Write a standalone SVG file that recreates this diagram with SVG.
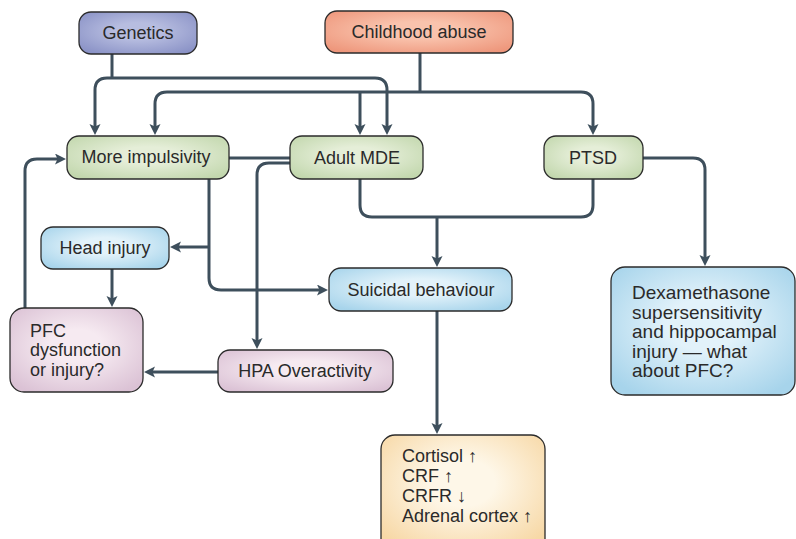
<svg xmlns="http://www.w3.org/2000/svg" width="796" height="539" viewBox="0 0 796 539">
<defs>
<radialGradient id="gGen" cx="50%" cy="45%" r="65%"><stop offset="0.3" stop-color="#b7bde0"/><stop offset="1" stop-color="#8a92c6"/></radialGradient>
<radialGradient id="gAbuse" cx="50%" cy="45%" r="65%"><stop offset="0.3" stop-color="#f9c3ad"/><stop offset="1" stop-color="#ee977c"/></radialGradient>
<radialGradient id="gGreen" cx="50%" cy="45%" r="65%"><stop offset="0.3" stop-color="#e5eed8"/><stop offset="1" stop-color="#c2d7ad"/></radialGradient>
<radialGradient id="gBlue" cx="50%" cy="45%" r="65%"><stop offset="0.3" stop-color="#e2f2fa"/><stop offset="1" stop-color="#a7d4eb"/></radialGradient>
<radialGradient id="gPink" cx="50%" cy="45%" r="65%"><stop offset="0.3" stop-color="#f6eaf1"/><stop offset="1" stop-color="#dbc2d5"/></radialGradient>
<radialGradient id="gCort" cx="50%" cy="40%" r="65%"><stop offset="0.3" stop-color="#fef7e8"/><stop offset="1" stop-color="#f7d8a6"/></radialGradient>
<marker id="arr" markerUnits="userSpaceOnUse" markerWidth="12" markerHeight="12" refX="7" refY="5.5" orient="auto-start-reverse">
<path d="M0,0 L11,5.5 L0,11 L2.5,5.5 z" fill="#3e4f5c"/>
</marker>
</defs>
<style>
.box{stroke:#2b2b2b;stroke-width:1.3}
.t{font-family:"Liberation Sans",Arial,sans-serif;font-size:18px;fill:#2a2a2a}
.d{font-size:19px}
.c{text-anchor:middle;dominant-baseline:central}
.ln{fill:none;stroke:#3e4f5c;stroke-width:3}
.a{marker-end:url(#arr)}
.s{marker-start:url(#arr)}
</style>
<g id="connectors">
<path class="ln" d="M112,54 V78"/>
<path class="ln a s" d="M387,131 V90 Q387,78 375,78 H107 Q95,78 95,90 V131"/>
<path class="ln" d="M420,53 V92"/>
<path class="ln a s" d="M593,131 V104 Q593,92 581,92 H167 Q155,92 155,104 V131"/>
<path class="ln a" d="M360,92 V131"/>
<path class="ln" d="M229,158 H290"/>
<path class="ln a" d="M290,163 H269 Q257,163 257,175 V345"/>
<path class="ln a" d="M643,158 H693 Q705,158 705,170 V262"/>
<path class="ln" d="M360,179 V205 Q360,217 372,217 H581 Q593,217 593,205 V179"/>
<path class="ln a" d="M437,217 V263"/>
<path class="ln a" d="M209,179 V278 Q209,290 221,290 H324"/>
<path class="ln a" d="M209,247 H174"/>
<path class="ln a" d="M112,269 V303"/>
<path class="ln a" d="M25,308 V171 Q25,159 37,159 H62"/>
<path class="ln a" d="M218,372 H148"/>
<path class="ln a" d="M437,311 V430"/>
</g>
<g id="genetics"><rect class="box" x="79" y="12" width="118" height="42" rx="12" fill="url(#gGen)"/><text class="t c" x="138" y="33">Genetics</text></g>
<g id="childhood-abuse"><rect class="box" x="325" y="11" width="188" height="42" rx="12" fill="url(#gAbuse)"/><text class="t c" x="419" y="32">Childhood abuse</text></g>
<g id="more-impulsivity"><rect class="box" x="67" y="136" width="162" height="43" rx="12" fill="url(#gGreen)"/><text class="t c" x="146" y="157">More impulsivity</text></g>
<g id="adult-mde"><rect class="box" x="290" y="136" width="133" height="43" rx="12" fill="url(#gGreen)"/><text class="t c" x="357" y="158">Adult MDE</text></g>
<g id="ptsd"><rect class="box" x="544" y="136" width="99" height="43" rx="12" fill="url(#gGreen)"/><text class="t c" x="593" y="158">PTSD</text></g>
<g id="head-injury"><rect class="box" x="41" y="227" width="128" height="42" rx="12" fill="url(#gBlue)"/><text class="t c" x="105" y="248">Head injury</text></g>
<g id="suicidal-behaviour"><rect class="box" x="329" y="268" width="183" height="43" rx="12" fill="url(#gBlue)"/><text class="t c" x="421" y="290">Suicidal behaviour</text></g>
<g id="dexamethasone"><rect class="box" x="611" y="267" width="184" height="128" rx="14" fill="url(#gBlue)"/>
<text class="t d" x="632" y="299">Dexamethasone</text>
<text class="t d" x="632" y="318.5">supersensitivity</text>
<text class="t d" x="632" y="338">and hippocampal</text>
<text class="t d" x="632" y="357.5">injury — what</text>
<text class="t d" x="632" y="377">about PFC?</text></g>
<g id="pfc"><rect class="box" x="10" y="308" width="133" height="84" rx="14" fill="url(#gPink)"/>
<text class="t" x="30" y="337">PFC</text>
<text class="t" x="30" y="356">dysfunction</text>
<text class="t" x="30" y="376">or injury?</text></g>
<g id="hpa"><rect class="box" x="218" y="350" width="175" height="42" rx="12" fill="url(#gPink)"/><text class="t c" x="305" y="371">HPA Overactivity</text></g>
<g id="cortisol"><rect class="box" x="381" y="435" width="164" height="120" rx="14" fill="url(#gCort)"/>
<text class="t" x="402" y="462">Cortisol ↑</text>
<text class="t" x="402" y="482">CRF ↑</text>
<text class="t" x="402" y="502">CRFR ↓</text>
<text class="t" x="402" y="522">Adrenal cortex ↑</text></g>
</svg>
